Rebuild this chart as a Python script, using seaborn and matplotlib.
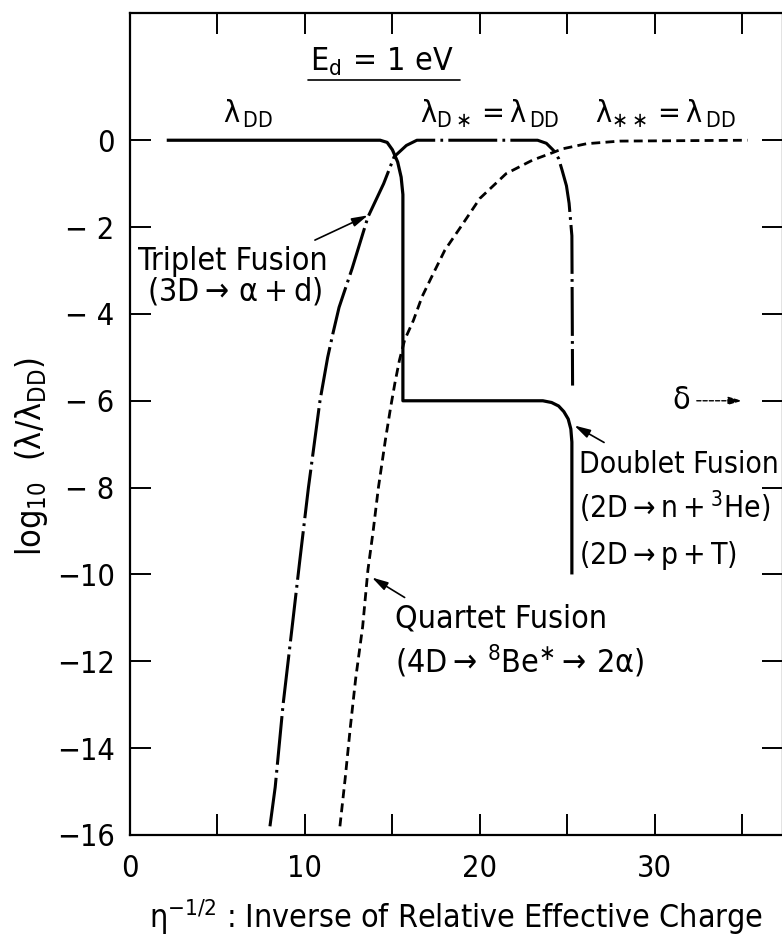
import dataclasses
import matplotlib
matplotlib.use("Agg")
import matplotlib.pyplot as plt
import seaborn as sns
from matplotlib import font_manager
from matplotlib.lines import Line2D

# ---------------------------------------------------------------- data
# Doublet fusion (2D -> n + 3He, 2D -> p + T): lambda_DD, drops to delta, cut off
doublet_x = [2.1, 14.3, 14.7, 15.0, 15.3, 15.5, 15.6, 15.6, 23.6, 24.1, 24.5,
             24.8, 25.05, 25.2, 25.26, 25.26]
doublet_y = [0.0, 0.0, -0.05, -0.22, -0.5, -0.85, -1.25, -6.0, -6.0, -6.04,
             -6.12, -6.25, -6.42, -6.65, -6.95, -10.0]

# Triplet fusion (3D -> alpha + d): lambda_D* reaches lambda_DD, then cut off
triplet_x = [8.0, 8.3, 8.75, 9.3, 9.7, 10.2, 10.86, 11.3, 11.6, 11.95, 12.7,
             13.6, 14.5, 15.1, 15.8, 16.4, 23.3, 23.8, 24.2, 24.5, 24.7,
             24.95, 25.1, 25.26, 25.3]
triplet_y = [-15.8, -14.9, -13.0, -11.1, -9.7, -8.0, -6.0, -5.0, -4.45,
             -3.85, -2.95, -1.77, -1.0, -0.38, -0.12, 0.0, 0.0, -0.07, -0.23,
             -0.42, -0.69, -1.05, -1.45, -2.2, -5.65]

# Quartet fusion (4D -> 8Be* -> 2 alpha): lambda_** approaches lambda_DD
quartet_x = [12.0, 12.3, 12.6, 12.9, 13.3, 13.6, 13.9, 14.2, 14.6, 14.9,
             15.14, 15.4, 15.7, 16.2, 16.7, 17.3, 18.0, 18.9, 20.0, 21.5,
             23.0, 24.2, 24.7, 26.1, 28.0, 35.3]
quartet_y = [-15.8, -14.7, -13.5, -12.4, -11.2, -9.9, -9.0, -8.0, -6.9,
             -6.15, -5.6, -5.07, -4.6, -4.15, -3.6, -3.1, -2.53, -2.0, -1.34,
             -0.77, -0.46, -0.28, -0.2, -0.08, -0.02, 0.0]

x_major = [0, 10, 20, 30]
x_major_labels = ["0", "10", "20", "30"]
x_minor = [5, 15, 25, 35]
y_ticks = [0, -2, -4, -6, -8, -10, -12, -14, -16]
y_tick_labels = ["0", "\u2212 2", "\u2212 4", "\u2212 6", "\u2212 8",
                 "\u221210", "\u221212", "\u221214", "\u221216"]
delta_level = -6.0

# ---------------------------------------------------------------- fonts
sns.set_theme(style="white")


def pick_narrow_face():
    """Register a narrow sans face under one alias name, if one is installed."""
    fm = font_manager.fontManager
    pref = ["Liberation Sans Narrow", "DejaVu Sans", "Roboto Condensed",
            "Open Sans Condensed", "Noto Sans"]
    cands = [f for f in fm.ttflist
             if f.style == "normal" and f.weight in (400, "normal", "regular")
             and (f.stretch in ("condensed", "semi-condensed", "semicondensed")
                  or "Narrow" in f.name or "Condensed" in f.name)]
    cands.sort(key=lambda f: pref.index(f.name) if f.name in pref else 99)
    if not cands:
        return "Liberation Sans"
    fm.ttflist.append(dataclasses.replace(cands[0], name="NarrowFace",
                                          stretch="normal"))
    font_manager.FontManager._findfont_cached.cache_clear()
    return "NarrowFace"


FAM = pick_narrow_face()
plt.rcParams.update({
    "font.family": [FAM, "DejaVu Sans"],
    "mathtext.fontset": "custom",
    "mathtext.rm": FAM,
    "mathtext.it": FAM,
    "mathtext.sf": FAM,
    "mathtext.default": "rm",
    "axes.unicode_minus": True,
    "text.color": "black",
    "axes.labelcolor": "black",
    "xtick.color": "black",
    "ytick.color": "black",
    "axes.edgecolor": "black",
})

W, H = 782, 943
fig = plt.figure(figsize=(W / 100, H / 100), dpi=100)
fig.patch.set_facecolor("white")
ax = fig.add_axes([130 / W, (H - 835) / H, (782.5 - 130) / W, (835 - 13) / H])
ax.set_facecolor("white")

# ---------------------------------------------------------------- curves
sns.lineplot(x=doublet_x, y=doublet_y, sort=False, estimator=None, ax=ax,
             color="black", lw=2.3, solid_capstyle="butt")
sns.lineplot(x=triplet_x, y=triplet_y, sort=False, estimator=None, ax=ax,
             color="black", lw=2.2, linestyle=(0, (16, 1.7, 0.9, 1.7)))
sns.lineplot(x=quartet_x, y=quartet_y, sort=False, estimator=None, ax=ax,
             color="black", lw=2.0, linestyle=(0, (3.2, 1.9)))

# ---------------------------------------------------------------- axes
ax.set_xlim(0, 37.3)
ax.set_ylim(-16, 2.93)
ax.set_xticks(x_major)
ax.set_xticklabels(x_major_labels)
ax.set_xticks(x_minor, minor=True)
ax.set_yticks(y_ticks)
ax.set_yticklabels(y_tick_labels)
for s in ax.spines.values():
    s.set_visible(True)
    s.set_color("black")
    s.set_linewidth(1.6)
ax.tick_params(which="both", direction="in", length=15, width=1.4,
               top=True, right=True, bottom=True, left=True, color="black")
ax.tick_params(axis="x", which="major", labelsize=22, pad=14)
ax.tick_params(axis="y", which="major", labelsize=22, pad=11)
ax.grid(False)

ax.set_xlabel(r"$\eta^{-1/2}$ : Inverse of Relative Effective Charge",
              fontsize=23, labelpad=10)
ax.set_ylabel(r"$\mathrm{log}_{10}\ \ (\mathrm{\lambda}/\mathrm{\lambda}_{\mathrm{DD}})$",
              fontsize=24.5)
ax.yaxis.set_label_coords(-0.123, 0.46)

# ---------------------------------------------------------------- labels
fs = 23
ed = ax.text(14.4, 1.61, r"$\mathrm{E}_{\mathrm{d}}\,=\,\mathrm{1\ eV}$",
             fontsize=fs, ha="center", va="baseline")
ax.text(5.31, 0.39, r"$\mathrm{\lambda}_{\,\mathrm{DD}}$", fontsize=22,
        ha="left", va="baseline")
ax.text(16.57, 0.39,
        r"$\mathrm{\lambda}_{\mathrm{D}\ast}{=}\mathrm{\lambda}_{\,\mathrm{DD}}$",
        fontsize=22, ha="left", va="baseline")
ax.text(26.57, 0.39,
        r"$\mathrm{\lambda}_{\ast\ast}{=}\mathrm{\lambda}_{\,\mathrm{DD}}$",
        fontsize=22, ha="left", va="baseline")

ax.text(0.46, -3.0, "Triplet Fusion", fontsize=fs, ha="left", va="baseline")
ax.text(1.0, -3.69, r"$(3\mathrm{D}\rightarrow\,\mathrm{\alpha}+\mathrm{d})$",
        fontsize=fs, ha="left", va="baseline")
ax.annotate("", xy=(13.6, -1.73), xytext=(10.57, -2.30),
            arrowprops=dict(arrowstyle="-|>,head_length=0.8,head_width=0.22",
                            color="black", lw=1.2, shrinkA=0, shrinkB=0))

fs_d = 21.5
ax.text(25.66, -7.67, "Doublet Fusion", fontsize=fs_d, ha="left",
        va="baseline")
ax.text(25.66, -8.71,
        r"$(2\mathrm{D}\rightarrow\mathrm{n}+{}^{3}\mathrm{He})$",
        fontsize=fs_d, ha="left", va="baseline")
ax.text(25.66, -9.75, r"$(2\mathrm{D}\rightarrow\mathrm{p}+\mathrm{T})$",
        fontsize=fs_d, ha="left", va="baseline")
ax.annotate("", xy=(25.4, -6.57), xytext=(27.1, -6.96),
            arrowprops=dict(arrowstyle="-|>,head_length=0.8,head_width=0.22",
                            color="black", lw=1.2, shrinkA=0, shrinkB=0))

ax.text(15.14, -11.22, "Quartet Fusion", fontsize=fs, ha="left", va="baseline")
ax.text(15.14, -12.26,
        r"$(4\mathrm{D}\rightarrow\,{}^{8}\mathrm{Be}^{\ast}\rightarrow\,2\mathrm{\alpha})$",
        fontsize=fs, ha="left", va="baseline")
ax.annotate("", xy=(13.83, -10.07), xytext=(15.7, -10.53),
            arrowprops=dict(arrowstyle="-|>,head_length=0.8,head_width=0.22",
                            color="black", lw=1.2, shrinkA=0, shrinkB=0))

ax.text(31.0, delta_level, r"$\mathrm{\delta}$", fontsize=fs, ha="left",
        va="center")
ax.annotate("", xy=(35.0, delta_level), xytext=(32.4, delta_level),
            arrowprops=dict(arrowstyle="-|>,head_length=0.7,head_width=0.2",
                            color="black", lw=1.0, linestyle=(0, (3, 1.5)),
                            shrinkA=0, shrinkB=0))

# underline beneath the energy label
fig.canvas.draw()
bb = ed.get_window_extent(renderer=fig.canvas.get_renderer())
inv = ax.transData.inverted()
(x0, _), (x1, _) = inv.transform([(bb.x0 - 2, 0), (bb.x1 + 6, 0)])
ax.add_line(Line2D([x0, x1], [1.38, 1.38], color="black", lw=1.2))

fig.savefig("out.png", dpi=100, facecolor="white")
